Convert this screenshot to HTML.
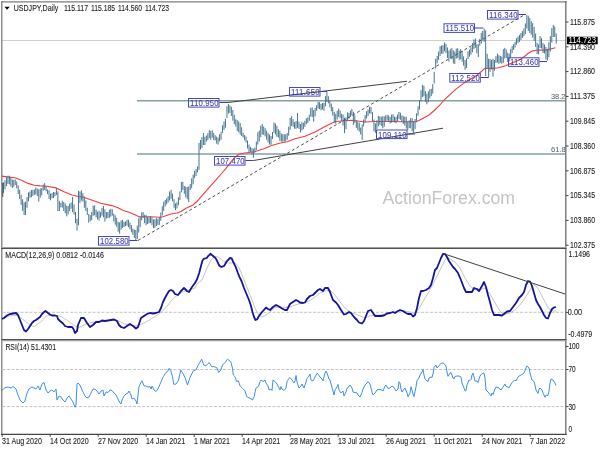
<!DOCTYPE html>
<html><head><meta charset="utf-8"><title>USDJPY Daily</title><style>
html,body{margin:0;padding:0;background:#fff;width:600px;height:450px;overflow:hidden}svg{display:block}
text{font-family:"Liberation Sans", Arial, sans-serif;}.t{font-size:8.4px;fill:#1c1c1c;stroke:#1c1c1c;stroke-width:0.1px}
</style></head><body>
<svg width="600" height="450" viewBox="0 0 600 450">
<rect width="600" height="450" fill="#fff"/>
<line x1="2" y1="40.5" x2="565" y2="40.5" stroke="#d0d0d0" stroke-width="1"/>
<line x1="137" y1="100.8" x2="565" y2="100.8" stroke="#84a0a0" stroke-width="1.5"/>
<line x1="137" y1="154" x2="565" y2="154" stroke="#84a0a0" stroke-width="1.5"/>
<text x="551" y="98.8" font-size="7.6" fill="#566878" stroke="#566878" stroke-width="0.05" textLength="14.4" lengthAdjust="spacingAndGlyphs">38.2</text>
<text x="551" y="152.1" font-size="7.6" fill="#566878" stroke="#566878" stroke-width="0.05" textLength="14.8" lengthAdjust="spacingAndGlyphs">61.8</text>
<text x="382.5" y="204.3" font-size="18" fill="#c4c4c4" textLength="132.5" lengthAdjust="spacingAndGlyphs">ActionForex.com</text>
<polyline points="1.8,176.1 15.9,178 22,180.4 28.1,183.4 34.2,185.3 40.3,185.9 47,186.3 56,187.9 64,191.7 72,195 77.3,196.3 82.7,197 90,199.5 101,203.3 112,205.6 118,207.8 123.3,210.6 129,212.2 134.4,214.4 139,216.7 150,216.7 160,217.3 163,216.7 170,214.2 177,213 181,211.5 186,208.3 193,205 197,201.5 202,195.6 206,191.1 210,186.6 216,179.8 222,173 226,168.3 230.6,162.3 235,157.2 239,154.3 245,153 254.5,151.8 263.9,148.7 271.7,145.5 279.4,143.2 287.2,141.7 295,138.8 305,136.3 315,132.1 325,126.6 332,122.9 336,121.5 345,120.7 352,120.2 365,122 375,121.5 390,121.5 405,121.8 416.5,121.8 423.6,118 429,115 434.3,110.5 440,105 443.5,100.5 455.6,89.4 466.3,81.4 477,75.2 485,68.4 493,68.4 498.3,67.7 505.6,65.7 518,60.5 521,58.9 525,56 528,53.5 532,51.1 536,50.3 540,50.1 546,50.1 555.3,47.8" fill="none" stroke="#f43c3c" stroke-width="1.1"/>
<path d="M3.5 182.4V193.03M4.97 180.26V189.4M6.44 177.26V186.04M7.91 175.74V183.91M9.38 175.79V184.34M10.85 177.47V186.53M12.32 179.58V188.03M13.79 179.77V186.72M15.26 179.5V185M16.73 181.55V188.25M18.2 185.41V194.01M19.67 189.89V198.76M21.14 194.69V204.91M22.61 199.25V210.85M24.08 202.26V215.06M25.55 201.64V214.99M27.02 196.98V207.77M28.49 192.4V201.4M29.96 191.45V197.92M31.43 190.03V197.16M32.9 189.76V195.95M34.37 189.44V194.85M35.84 187.37V194.4M37.31 188.57V196.05M38.78 189.42V201.64M40.25 188.46V197.68M41.72 188.06V195.37M43.19 184.59V190.8M44.66 183.16V189.93M46.13 186.01V191.28M47.6 189.42V194.12M49.07 190.17V199.06M50.54 193.68V200.25M52.01 192.99V198.3M53.48 192.01V198M54.95 192.29V196.36M56.42 188.51V195.07M57.89 191.45V211.03M59.36 200.77V211.12M60.83 202.85V207.45M62.3 200.66V207.61M63.77 201.99V211.09M65.24 203.46V213.35M66.71 205.8V216.36M68.18 205.83V214.4M69.65 203.63V211.09M71.12 202.48V208.81M72.59 197V212.22M74.06 204.4V214.62M75.53 212.01V223.24M77 218.78V230.62M78.47 190.72V225.33M79.94 191.54V202.91M81.41 190.41V200.64M82.88 193.16V201.55M84.35 196.47V207.77M85.82 200.56V210.88M87.29 207.73V214.93M88.76 213.93V222.65M90.23 215.14V221.28M91.7 212.1V220.03M93.17 205.53V215.89M94.64 205.41V215.21M96.11 209.57V217.36M97.58 211.64V219.46M99.05 210.65V220.51M100.52 212.14V217.77M101.99 207.83V215.61M103.46 206.01V217.39M104.93 209.27V221.68M106.4 211.99V218.61M107.87 212.11V217.92M109.34 209.75V218.05M110.81 208.78V216.62M112.28 209.25V215.66M113.75 213.65V221.4M115.22 215.31V224.72M116.69 217.81V226.84M118.16 221.85V231.73M119.63 222.34V233.79M121.1 220.58V229.68M122.57 219.96V227.88M124.04 221.88V227.02M125.51 221.45V226.12M126.98 219.65V225.54M128.45 219.74V227.18M129.92 222.32V229.25M131.39 225.04V232.27M132.86 228.56V234.69M134.33 229.66V237.95M135.8 229.92V240.6M137.27 225.6V239M138.74 218.2V232.49M140.21 216.59V226.97M141.68 212.35V220.3M143.15 212.12V218M144.62 214.71V223.2M146.09 214.99V225.2M147.56 216.99V223.93M149.03 217.08V223.4M150.5 216.23V223M151.97 217.23V225.19M153.44 219.4V228M154.91 219.21V227.81M156.38 218.15V225.99M157.85 218.92V224.86M159.32 217.02V224.93M160.79 212.59V220.72M162.26 206.24V215.43M163.73 201.71V210.94M165.2 199.95V206.38M166.67 198.3V204.25M168.14 196.21V202.43M169.61 191.45V200.42M171.08 189.76V198.73M172.55 193.62V201.23M174.02 199.21V207.79M175.49 203.4V210.18M176.96 202.11V208.38M178.43 197.27V205.24M179.9 191.42V200.15M181.37 181.96V192.36M182.84 181.71V189.88M184.31 185.96V193.69M185.78 186.61V197.39M187.25 187V199.25M188.72 186.4V202.28M190.19 184.05V190M191.66 178.35V188.35M193.13 174.61V184.35M194.6 170.8V178.2M196.07 168.93V175.93M197.54 166.38V172.3M199.01 142.98V169.8M200.48 140.04V149.52M201.95 137.1V148.05M203.42 133.05V145M204.89 136.72V145M206.36 135.46V141.64M207.83 133.26V140.17M209.3 130.15V138.3M210.77 130.88V139.77M212.24 130.48V137.72M213.71 133.06V140M215.18 135.18V140.54M216.65 136.65V143.65M218.12 137.64V144.64M219.59 134.12V141.41M221.06 131.88V139.76M222.53 125.23V132.82M224 121.5V130M225.47 118.71V127.65M226.94 106.18V117.91M228.41 104.02V113.56M229.88 105.36V112.84M231.35 106.77V115.95M232.82 110V120.73M234.29 114.68V124.22M235.76 119.19V126.6M237.23 120.02V130.92M238.7 121.4V132.3M240.17 122.97V134.65M241.64 127.23V136.05M243.11 132.78V137.51M244.58 135.08V140.24M246.05 136.55V142.55M247.52 140.51V148.47M248.99 144.54V152.2M250.46 146.9V151.8M251.93 148.16V154.35M253.4 148.7V157.85M254.87 147.43V152.77M256.34 141.57V150.07M257.81 132.19V144.57M259.28 130.53V141.47M260.75 125.66V137.21M262.22 123.98V134.48M263.69 126.46V134.92M265.16 128.15V136.42M266.63 130.67V139.73M268.1 133.1V142.45M269.57 134.57V144.58M271.04 136.04V144.74M272.51 131.97V138.97M273.98 122.44V132.78M275.45 123.54V134.44M276.92 125.82V136.72M278.39 129.24V137.64M279.86 130.62V140.82M281.33 133.55V141.7M282.8 134.17V141.7M284.27 134.38V141.7M285.74 134.25V141.25M287.21 133.09V139.69M288.68 126.68V135.69M290.15 117.99V129.78M291.62 116.21V126.1M293.09 119.11V126.7M294.56 122.1V128.76M296.03 120.89V128.85M297.5 113.1V127.8M298.97 121.53V128.98M300.44 124V132.55M301.91 121.84V130.35M303.38 122.8V129.1M304.85 120.74V126.84M306.32 118.3V124.4M307.79 117.48V123.07M309.26 114.8V120.88M310.73 107.82V116.48M312.2 107.36V117.04M313.67 110.02V121.69M315.14 107.89V116.36M316.61 105.22V110.67M318.08 101.94V108.54M319.55 102.16V109.04M321.02 103.99V110.28M322.49 102.95V109.45M323.96 102.87V110.78M325.43 96.11V106.2M326.9 91.7V101.98M328.37 96.34V103.3M329.84 100.37V107.29M331.31 103.55V111.4M332.78 107.05V115.65M334.25 111.9V122.3M335.72 113.82V123.67M337.19 110.75V119.35M338.66 108.61V116.94M340.13 110.41V118.16M341.6 113.82V121.22M343.07 114.51V125.59M344.54 117.68V133.16M346.01 117.56V129.14M347.48 112.42V121.14M348.95 112.9V118.75M350.42 110.63V116.81M351.89 108.9V115.62M353.36 111.84V124.92M354.83 115.21V123.02M356.3 120.24V127.91M357.77 121.49V130.15M359.24 122.66V131.56M360.71 127.6V134.58M362.18 124.46V139.92M363.65 119.55V126.43M365.12 115.02V122.79M366.59 111.21V118.62M368.06 109.48V116.18M369.53 106.82V113.5M371 106.85V113.72M372.47 112.22V121.02M373.94 119.59V131.32M375.41 123.32V132.87M376.88 120.24V129M378.35 116.03V126.5M379.82 116.45V124.65M381.29 116.68V125.97M382.76 116.24V128.3M384.23 116.44V126.74M385.7 115.43V121.21M387.17 114.78V120.61M388.64 115.45V121.93M390.11 116.94V123.53M391.58 114.58V122.7M393.05 114.26V121.94M394.52 116.65V122.41M395.99 116.85V123.4M397.46 114.58V121.4M398.93 111.99V119.12M400.4 112.65V119.85M401.87 115.34V122M403.34 116.12V123.95M404.81 116.7V125.62M406.28 116.77V128.58M407.75 121.63V130.33M409.22 120.41V128.03M410.69 117.94V128.31M412.16 118.32V131.32M413.63 121.05V132.8M415.1 119V129.13M416.57 113.26V121.53M418.04 106.22V115.75M419.51 100.34V109.56M420.98 90.16V101.62M422.45 84.88V97.08M423.92 85.78V96.34M425.39 91.12V101.82M426.86 93.64V104.27M428.33 91.38V102.38M429.8 89.3V98.5M431.27 88.8V96.1M432.74 84.19V93.62M434.21 71.84V83.51M435.68 58.8V68.62M437.15 56V63.31M438.62 51.52V59.94M440.09 46.15V55.88M441.56 45.62V53.71M443.03 45.11V53.78M444.5 42.43V51.33M445.97 43.89V53.04M447.44 47.43V58.02M448.91 50.7V61.64M450.38 49.24V58.36M451.85 47.89V59.29M453.32 50.18V63.5M454.79 51.67V63.93M456.26 48.61V58.65M457.73 48.22V57.91M459.2 50.69V60.09M460.67 49.11V59.28M462.14 50.86V61.71M463.61 56.33V65.63M465.08 59.98V69.82M466.55 58.33V68.04M468.02 51.31V59.06M469.49 49.58V56.65M470.96 47.26V54.69M472.43 42.99V52.31M473.9 39.54V48.93M475.37 38.5V47.83M476.84 44.29V53.27M478.31 44.2V57.11M479.78 38.75V45.63M481.25 32.97V43.55M482.72 30.92V40.71M484.19 28.77V41.95M485.66 30.33V76.14M487.13 53.77V68.81M488.6 58.7V76.95M490.07 58.76V71.87M491.54 59.97V69.5M493.01 58.71V76.66M494.48 59.98V70.78M495.95 56.13V62.97M497.42 53.44V62.7M498.89 55.15V63.9M500.36 55.93V62.82M501.83 56.62V63.85M503.3 49.16V62.87M504.77 47.88V58.41M506.24 49.48V58.16M507.71 52.72V62M509.18 53.56V61.33M510.65 49.15V57.78M512.12 46.12V53.28M513.59 44.16V49.96M515.06 41.72V47.61M516.53 38.21V44.73M518 36.49V42.88M519.47 34.91V41.91M520.94 32.99V39.99M522.41 31.11V37.98M523.88 28.5V36.32M525.35 23.42V34.1M526.82 15.05V28.5M528.29 15.72V30.97M529.76 17.95V32.94M531.23 21.18V34.66M532.7 23.16V37.6M534.17 26.85V41.04M535.64 33.65V47.07M537.11 42.76V53.98M538.58 44.41V54.41M540.05 36V47.95M541.52 38.08V48.56M542.99 42.97V52.97M544.46 44.46V53.38M545.93 46.86V59.65M547.4 48.8V60.6M548.87 42.17V57.39M550.34 36.26V51.6M551.81 28.19V42.57M553.28 25V37M554.75 26.5V37M556.22 33.4V43.7" stroke="#467590" stroke-width="1" fill="none"/>
<line x1="2.7" y1="182.8" x2="2.7" y2="197" stroke="#1c4864" stroke-width="1.1"/>
<line x1="228" y1="102.5" x2="407" y2="81.3" stroke="#404040" stroke-width="1"/>
<line x1="253.5" y1="160.5" x2="443" y2="128.2" stroke="#404040" stroke-width="1"/>
<line x1="138" y1="240.5" x2="525" y2="14.5" stroke="#505050" stroke-width="1" stroke-dasharray="3,2.4"/>
<line x1="129.5" y1="240.5" x2="137.5" y2="240.5" stroke="#3c3cc0" stroke-width="1"/>
<rect x="98.5" y="236.5" width="30.5" height="8.6" fill="none" stroke="#4848c4" stroke-width="1"/>
<text transform="translate(100 244) scale(0.9 1)" font-family="DejaVu Sans Mono, monospace" font-size="8.6" fill="#3a3aa4" stroke="#3a3aa4" stroke-width="0.05" textLength="31.78" lengthAdjust="spacing">102.580</text>
<line x1="219.5" y1="102.5" x2="228" y2="102.5" stroke="#3c3cc0" stroke-width="1"/>
<rect x="188.5" y="98.5" width="30.5" height="8.6" fill="none" stroke="#4848c4" stroke-width="1"/>
<text transform="translate(190 106) scale(0.9 1)" font-family="DejaVu Sans Mono, monospace" font-size="8.6" fill="#3a3aa4" stroke="#3a3aa4" stroke-width="0.05" textLength="31.78" lengthAdjust="spacing">110.950</text>
<line x1="245.5" y1="160.5" x2="253.5" y2="160.5" stroke="#3c3cc0" stroke-width="1"/>
<rect x="214.5" y="156.5" width="30.5" height="8.6" fill="none" stroke="#4848c4" stroke-width="1"/>
<text transform="translate(216 164) scale(0.9 1)" font-family="DejaVu Sans Mono, monospace" font-size="8.6" fill="#3a3aa4" stroke="#3a3aa4" stroke-width="0.05" textLength="31.78" lengthAdjust="spacing">107.470</text>
<line x1="320.5" y1="91.5" x2="327" y2="91.5" stroke="#3c3cc0" stroke-width="1"/>
<rect x="289.5" y="87.5" width="30.5" height="8.6" fill="none" stroke="#4848c4" stroke-width="1"/>
<text transform="translate(291 95) scale(0.9 1)" font-family="DejaVu Sans Mono, monospace" font-size="8.6" fill="#3a3aa4" stroke="#3a3aa4" stroke-width="0.05" textLength="31.78" lengthAdjust="spacing">111.650</text>
<line x1="407.5" y1="134" x2="415" y2="134" stroke="#3c3cc0" stroke-width="1"/>
<rect x="376.5" y="130" width="30.5" height="8.6" fill="none" stroke="#4848c4" stroke-width="1"/>
<text transform="translate(378 137.5) scale(0.9 1)" font-family="DejaVu Sans Mono, monospace" font-size="8.6" fill="#3a3aa4" stroke="#3a3aa4" stroke-width="0.05" textLength="31.78" lengthAdjust="spacing">109.110</text>
<line x1="475" y1="28" x2="483.5" y2="28" stroke="#3c3cc0" stroke-width="1"/>
<rect x="444" y="23.8" width="30.5" height="8.6" fill="none" stroke="#4848c4" stroke-width="1"/>
<text transform="translate(445.5 31.3) scale(0.9 1)" font-family="DejaVu Sans Mono, monospace" font-size="8.6" fill="#3a3aa4" stroke="#3a3aa4" stroke-width="0.05" textLength="31.78" lengthAdjust="spacing">115.510</text>
<line x1="480.8" y1="77.5" x2="488.7" y2="77.5" stroke="#3c3cc0" stroke-width="1"/>
<rect x="449.8" y="73.5" width="30.5" height="8.6" fill="none" stroke="#4848c4" stroke-width="1"/>
<text transform="translate(451.3 81) scale(0.9 1)" font-family="DejaVu Sans Mono, monospace" font-size="8.6" fill="#3a3aa4" stroke="#3a3aa4" stroke-width="0.05" textLength="31.78" lengthAdjust="spacing">112.520</text>
<line x1="518.5" y1="14.5" x2="526" y2="14.5" stroke="#3c3cc0" stroke-width="1"/>
<rect x="487.5" y="10.5" width="30.5" height="8.6" fill="none" stroke="#4848c4" stroke-width="1"/>
<text transform="translate(489 18) scale(0.9 1)" font-family="DejaVu Sans Mono, monospace" font-size="8.6" fill="#3a3aa4" stroke="#3a3aa4" stroke-width="0.05" textLength="31.78" lengthAdjust="spacing">116.340</text>
<line x1="539.5" y1="61.5" x2="547" y2="61.5" stroke="#3c3cc0" stroke-width="1"/>
<rect x="508.5" y="57.8" width="30.5" height="8.6" fill="none" stroke="#4848c4" stroke-width="1"/>
<text transform="translate(510 65.3) scale(0.9 1)" font-family="DejaVu Sans Mono, monospace" font-size="8.6" fill="#3a3aa4" stroke="#3a3aa4" stroke-width="0.05" textLength="31.78" lengthAdjust="spacing">113.460</text>
<g fill="none">
<line x1="1.8" y1="1" x2="1.8" y2="435" stroke="#7c7c7c" stroke-width="1.3"/>
<line x1="1" y1="1.8" x2="566.5" y2="1.8" stroke="#7c7c7c" stroke-width="1.3"/>
<line x1="565.8" y1="1" x2="565.8" y2="435" stroke="#6a6a6a" stroke-width="1.3"/>
<line x1="1" y1="247.5" x2="566.5" y2="247.5" stroke="#a0a0a0" stroke-width="1"/>
<line x1="1" y1="248.5" x2="566.5" y2="248.5" stroke="#505050" stroke-width="1"/>
<line x1="1" y1="339.5" x2="566.5" y2="339.5" stroke="#505050" stroke-width="1"/>
<line x1="1" y1="340.6" x2="566.5" y2="340.6" stroke="#a0a0a0" stroke-width="1.2"/>
<line x1="1" y1="434.3" x2="566.5" y2="434.3" stroke="#454545" stroke-width="1.3"/>
</g>
<path d="M4.5 6.8h5.2l-2.6 3z" fill="#000"/>
<text x="13.7" y="10.9" class="t" textLength="44.6" lengthAdjust="spacingAndGlyphs">USDJPY,Daily</text>
<text x="64" y="10.9" class="t" textLength="24" lengthAdjust="spacingAndGlyphs">115.117</text>
<text x="91" y="10.9" class="t" textLength="24" lengthAdjust="spacingAndGlyphs">115.185</text>
<text x="118" y="10.9" class="t" textLength="24" lengthAdjust="spacingAndGlyphs">114.560</text>
<text x="145" y="10.9" class="t" textLength="24" lengthAdjust="spacingAndGlyphs">114.723</text>
<text x="570" y="24.8" class="t" textLength="25" lengthAdjust="spacingAndGlyphs">115.875</text>
<text x="570" y="49.6" class="t" textLength="25" lengthAdjust="spacingAndGlyphs">114.390</text>
<text x="570" y="74.4" class="t" textLength="25" lengthAdjust="spacingAndGlyphs">112.860</text>
<text x="570" y="99.2" class="t" textLength="25" lengthAdjust="spacingAndGlyphs">111.375</text>
<text x="570" y="124" class="t" textLength="25" lengthAdjust="spacingAndGlyphs">109.845</text>
<text x="570" y="148.8" class="t" textLength="25" lengthAdjust="spacingAndGlyphs">108.360</text>
<text x="570" y="173.6" class="t" textLength="25" lengthAdjust="spacingAndGlyphs">106.875</text>
<text x="570" y="198.4" class="t" textLength="25" lengthAdjust="spacingAndGlyphs">105.345</text>
<text x="570" y="223.2" class="t" textLength="25" lengthAdjust="spacingAndGlyphs">103.860</text>
<text x="570" y="248" class="t" textLength="25" lengthAdjust="spacingAndGlyphs">102.375</text>
<path d="M566 22h2.5M566 46.8h2.5M566 71.6h2.5M566 96.4h2.5M566 121.2h2.5M566 146h2.5M566 170.8h2.5M566 195.6h2.5M566 220.4h2.5M566 245.2h2.5" stroke="#404040" stroke-width="1"/>
<rect x="567" y="36.7" width="30.7" height="7.6" fill="#000"/>
<text x="568.5" y="43.3" font-size="8.5" fill="#fff" textLength="27.5" lengthAdjust="spacingAndGlyphs">114.723</text>
<text x="5.3" y="258.1" class="t" textLength="98.6" lengthAdjust="spacingAndGlyphs">MACD(12,26,9) 0.0812 -0.0146</text>
<line x1="2.5" y1="312.3" x2="565" y2="312.3" stroke="#c4c4c4" stroke-width="1" stroke-dasharray="3,1.5"/>
<polyline points="2,319 9,316 16.5,315.2 22.5,319 30,325 34.5,326.5 40.5,322 46.5,316 52.5,315.2 60,316 67.5,320.5 73.5,325 78,328 84,325 90,322.7 95,322 100,322 105,321 110,320 115,319.5 120,321.5 125,324 130,325 135,326 140,325 145,322.5 150,319.5 155,316.5 160,313.3 166.7,306.7 173.3,298.3 180,293.3 185,291 190,290 195,288 197,284 202,280 206.7,268.8 210.8,260.5 214.2,256.75 216.7,256.3 220,258 223.3,261 226.7,263 230.8,263 235,262.6 238.3,266.3 240,270 244,280 248,290 252,300 255,308 258,314 262,317 266,315 270,312 275,307.5 280,307 285,307.5 290,307 295,305 300,303.5 305,302.5 310,300.5 315,297 320,293 325,291 330,290 335,295 340,302 345,308 350,312 355,314 360,316 365,318 370,316 375,315 380,315 385,314 390,313 395,312 400,311 405,311 410,312 415,314 420,307 425,298 430,290 435,280 440,270 445,260 447,257 450,259 455,262 460,268 465,278 470,286 475,290 480,290 485,288 490,294 495,303 500,311 503,314 506,314 510,313 515,310 520,305 525,298 530,290 533,284.5 537,287 541,294 545,302 549,309 553,311 556,311" fill="none" stroke="#c8c4c4" stroke-width="1"/>
<polyline points="2,319 4,318 7,315.5 10,314 13,313.5 16,313 18,315 20,320 22,325 24,330 26,331.5 28,329 30,326 32,323 34,321 36,320 38,318.5 40,317 42,314 44,312 45.5,311 48,313 50,314.5 52,315.5 55,315.5 57,316 58,319 60,321 63,323.5 65,326 68,327 70,327 72,327 73.5,329 75,333 77,331 78,325 81,318 84,318 87,323 90,327 93,325 96,322 99,322 102,320.5 105,321 108,320.5 111,320 114,319.5 117,321 119,325 121,327 124,328 127,326 130,324 133,326 136,328.5 138,327 141,318 144,316 147,314 150,313 153,313.5 156,313 159,312 161,308 163,302 166,296 169,291 171,290 173,291 175,294 178,295 181,291 184,288 187,291 189,292 192,287 195,283 197.1,279.3 199.2,273 201.3,264.7 202.5,260.5 203.8,258.8 206.7,258 207.9,256.3 210.4,253.8 212.5,255.5 215.8,258.4 217.5,261.8 219.2,265.5 221.3,267 224.2,265.9 226.7,261.3 230,258 231.7,258.4 233.3,262.2 235.8,267.2 237.9,273 239.2,276.3 241.5,281 244,288 246.5,294 249,300 251,306 252.5,312 254,317 255.5,320 257,319.5 259,316 262,312 266,307.6 268,309 270,310 273,307 276,305 279,306.5 282,308.5 285,310 287,310 290,304 293,302 296,300 298,301 300,302.5 303,303 305,302.5 307,299 310,296 313,295 315,293 318,290 320,289 323,291 325,288 328,288 330,292 333,300 336,302.5 338,305 341,310 344,314.5 346,314 349,312 351,313 354,317 357,320 359,322.5 362,323.5 364,321 366,316 368,311 371,310 373,313 375,316 378,316 381,316 384,315.5 387,313.5 390,313 393,312 395,313 398,311 400,310 403,311 406,313 408,314 411,314 413,316.5 415,315 417,308 419,298 421,291 423,291 426,290 429,288 431,285 433,278 435,270 437,268 439,263 441,258 443,254 445,254 447,257 449,261 451,264 453,267 455,269 458,273 461,280 464,288 466,292 469,292 472,292 474,288 477,289 479,291 482,286 484,282 486,287 488,295 490,302 492,310 494,315 499,315 502,315.5 504,314 507,311.5 510,311 513,307 516,303 519,298 522,295 524,292 526,285 528,281 530,281.5 532,286 534,293 536,300 538,304 540,307 542,311 544,315 546,318 548,318.5 550,313 552,309 554,307.5 556,307" fill="none" stroke="#14149c" stroke-width="1.8" stroke-linejoin="round"/>
<line x1="443" y1="253.5" x2="565" y2="294" stroke="#404040" stroke-width="1"/>
<text x="568.5" y="256.9" class="t" textLength="21.5" lengthAdjust="spacingAndGlyphs">1.1496</text>
<text x="567.8" y="314.8" class="t" textLength="14.2" lengthAdjust="spacingAndGlyphs">0.00</text>
<text x="568.2" y="336.5" class="t" textLength="24" lengthAdjust="spacingAndGlyphs">-0.4979</text>
<path d="M566 312.4h2.5" stroke="#404040"/>
<text x="5.4" y="349.9" class="t" textLength="50.6" lengthAdjust="spacingAndGlyphs">RSI(14) 51.4301</text>
<line x1="2.5" y1="369.5" x2="565" y2="369.5" stroke="#c4c4c4" stroke-width="1" stroke-dasharray="3,1.5"/>
<line x1="2.5" y1="406.6" x2="565" y2="406.6" stroke="#c4c4c4" stroke-width="1" stroke-dasharray="3,1.5"/>
<polyline points="2,390.3 5,387.7 8,387 11,388 13,386.5 16,389 18,395 20,400 23,403 25,401 27,393 29,389 32,387 34,388 36,389 38,386 40,390 42,383.8 44,382.5 46,390 48,393 50,391 52,390 54,392 56,389 57,400 59,396 61,397 63,400 65,402 67,398 69,396 71,399 73,402 75,407.3 76,405 77,383.8 78,383 80,385 82,390 85,396 87,398 89,397 91,393 93,389.2 95,389 97,391 99,394 101,391 103,390 104,396 106,392 108,392.5 110,390 112,390.5 114,393 116,395 118,399 120,403 121,404 122,400 124,396 126,394 128,393 129,391 131,395 132,399 134,398 136,401 137,404 138,395 139,386.7 141,382.5 142,380.8 144,385.8 146,386 148,387 150,386.5 151,389 152,386 154,390 156,391.5 158,389 160,384.2 163.3,376.7 165.8,372.5 167.5,371.7 169.2,368.3 170.8,370.8 172.5,376.7 173.7,384.2 175.8,384.2 178.3,380.8 180.8,370 183.3,374.2 185,377.5 187.5,385 190,377.5 193.3,370.8 195.8,370 198.3,365 201.7,359.2 203.7,365 205.8,365.8 209.2,362.5 211.7,366.7 214.2,366.7 216.7,367.5 218.7,372.5 220.8,370 222.5,365 225,362.5 227.5,359.2 230.8,361.7 232.5,368.3 233.3,375 235,376.7 236.7,381.7 238.3,380.8 240,385.8 242.5,388.3 245,390.8 246.7,396.7 250,398.3 252.5,400 254.2,396.7 255.8,388.3 258.3,386.7 260,381.7 261,380 263,381.5 265,380 266,383 268,386 269,390 271,389 272,390.5 273,380 275,381.5 277,384 278,386 280,390 281,386.5 282,389 284,390.5 286,388 287,381.7 289,378.3 290,377.5 292,380 294,383 295,381 296,375.5 297,382 299,388 301,386 302,384 304,388 306,382 307,378.5 309,376 310,374 311,380 313,381 315,377 317,373.3 318,374 320,377 322,379 323,381 325,373 326,371 327,373 329,379 330,380 331,384 333,391 334,395 335,390 337,387 338,384.5 339,390 341,393 343,391 344,396 346,392 347,388.3 349,386.5 350,385 352,388 353,392 355,392.5 357,393 358,395 360,397 362,392.5 363,389 365,385 367,383 368,381.7 370,384 371,388 372,392 373,395 375,393 377,390 378,389.5 380,389.5 382,390 383,391 385,386 386,385 388,388.5 390,388 392,386 394,387.5 396,391 398,389 399,381.7 400,383 401,389 402,392 404,389 405,388 407,393 408,396.7 410,393 411,386.7 412,390 413,394 414,396.5 416,387 417,380.5 419,378 420,375 422,372 423,369.5 424,375 425,379 427,381 428,381.5 429,378 431,377 432,377.5 433,374 434,367.5 436,365 437,368 438,367 440,364.5 441,363.3 443,363 444,363.5 446,366 447,372 448,376.3 450,373 451,372.5 452,375 453,378 454,379 455,376.5 457,376 459,376 461,377 462,383 464,388 465,391 466,390.5 467,385 469,380 470,380.5 471,379.5 472,375 473,373 474,377 475,381 477,381 478,382.5 480,376 482,373.5 484,373 485,378 486,390 488,392 490,394.5 491,396 492,393 493,394.5 495,389 496,387 498,387.5 500,389 501,390 503,387 505,384 506,386.5 508,387 509,388 511,384 513,381.5 515,380 516,381 518,377 520,375.5 522,374.5 524,373 526,368 527,365.8 529,368 530,373 532,380 534,381.5 535,385 536,390 538,393.5 539,389 540,388 542,390 543,393 545,397.3 546,395 548,395.5 549,391 550,383 551,379 553,380 555,383 556,385.5" fill="none" stroke="#3d8ff0" stroke-width="1"/>
<text x="568.4" y="348.8" class="t" textLength="11.2" lengthAdjust="spacingAndGlyphs">100</text>
<text x="568.4" y="371.8" class="t" textLength="7.3" lengthAdjust="spacingAndGlyphs">70</text>
<text x="568.4" y="409.8" class="t" textLength="7.3" lengthAdjust="spacingAndGlyphs">30</text>
<text x="568.4" y="431.8" class="t" textLength="3.6" lengthAdjust="spacingAndGlyphs">0</text>
<path d="M566 369.5h2.5M566 406.6h2.5M566 346.5h2.5" stroke="#404040"/>
<text x="2" y="444.1" class="t" textLength="39.88" lengthAdjust="spacingAndGlyphs">31 Aug 2020</text>
<text x="50" y="444.1" class="t" textLength="38.68" lengthAdjust="spacingAndGlyphs">14 Oct 2020</text>
<text x="98" y="444.1" class="t" textLength="40.26" lengthAdjust="spacingAndGlyphs">27 Nov 2020</text>
<text x="146" y="444.1" class="t" textLength="39.09" lengthAdjust="spacingAndGlyphs">14 Jan 2021</text>
<text x="194" y="444.1" class="t" textLength="35.92" lengthAdjust="spacingAndGlyphs">1 Mar 2021</text>
<text x="242" y="444.1" class="t" textLength="38.29" lengthAdjust="spacingAndGlyphs">14 Apr 2021</text>
<text x="290" y="444.1" class="t" textLength="41.05" lengthAdjust="spacingAndGlyphs">28 May 2021</text>
<text x="338" y="444.1" class="t" textLength="36.71" lengthAdjust="spacingAndGlyphs">13 Jul 2021</text>
<text x="386" y="444.1" class="t" textLength="39.88" lengthAdjust="spacingAndGlyphs">26 Aug 2021</text>
<text x="434" y="444.1" class="t" textLength="38.16" lengthAdjust="spacingAndGlyphs">11 Oct 2021</text>
<text x="482" y="444.1" class="t" textLength="40.26" lengthAdjust="spacingAndGlyphs">24 Nov 2021</text>
<text x="530" y="444.1" class="t" textLength="35.14" lengthAdjust="spacingAndGlyphs">7 Jan 2022</text>
<path d="M2.2 434v2.8M50.2 434v2.8M98.2 434v2.8M146.2 434v2.8M194.2 434v2.8M242.2 434v2.8M290.2 434v2.8M338.2 434v2.8M386.2 434v2.8M434.2 434v2.8M482.2 434v2.8M530.2 434v2.8" stroke="#404040" stroke-width="1"/>
</svg></body></html>
